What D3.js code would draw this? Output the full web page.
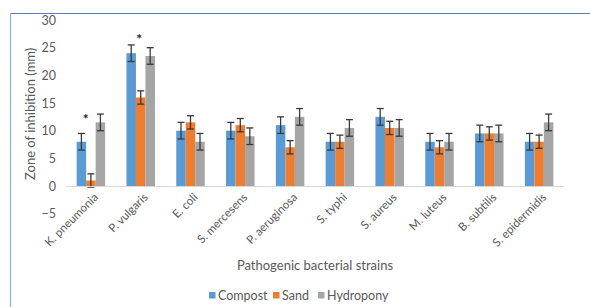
<!DOCTYPE html>
<html>
<head>
<meta charset="utf-8">
<script src="https://cdn.jsdelivr.net/npm/d3@7"></script>
<style>
    body { margin: 0; background: #fff; }
    svg { font-family: Lato, "Open Sans", sans-serif; }
</style>
</head>
<body>
<svg id="chart" width="590" height="307"></svg>
<script>
const categories = ['K. pneumonia', 'P. vulgaris', 'E. coli', 'S. mercesens', 'P. aeruginosa',
    'S. typhi', 'S. aureus', 'M. luteus', 'B. subtilis', 'S. epidermidis'];
const seriesNames = ['Compost', 'Sand', 'Hydropony'];
const compost = [8, 24, 10, 10, 11, 8, 12.5, 8, 9.5, 8];
const sand = [1, 16, 11.5, 11, 7, 8, 10.5, 7, 9.5, 8];
const hydropony = [11.5, 23.5, 8, 9, 12.5, 10.5, 10.5, 8, 9.5, 11.5];
const compostErr = [1.5, 1.5, 1.5, 1.5, 1.5, 1.5, 1.5, 1.5, 1.5, 1.5];
const sandErr = [1.2, 1.2, 1.2, 1.2, 1.2, 1.2, 1.2, 1.2, 1.2, 1.2];
const hydroponyErr = [1.5, 1.5, 1.5, 1.5, 1.5, 1.5, 1.5, 1.5, 1.5, 1.5];
const yTicks = [-5, 0, 5, 10, 15, 20, 25, 30];
// significance marks: category, height, position across the group in bar widths
const stars = [
    { cat: 'K. pneumonia', value: 12.3, at: 0.95, mark: '*', size: 14 },
    { cat: 'P. vulgaris', value: 26.8, at: 1.35, mark: '*', size: 14 },
    { cat: 'S. epidermidis', value: 9.9, at: 1.5, mark: '·', size: 9 }
];

const colors = ['#5B9BD5', '#ED7D31', '#A5A5A5'];
const svg = d3.select('#chart');

// outer frame (only top and left edges show)
svg.append('line').attr('x1', 10).attr('x2', 590).attr('y1', 13.5).attr('y2', 13.5)
    .attr('stroke', '#4F7FCB').attr('stroke-width', 1.2);
svg.append('line').attr('x1', 10.5).attr('x2', 10.5).attr('y1', 13).attr('y2', 307)
    .attr('stroke', '#8DB3E2').attr('stroke-width', 1.2);

const x = d3.scaleBand().domain(categories).range([66, 564]);
const groupW = 28.5;
const x1 = d3.scaleBand().domain(seriesNames).range([0, groupW]);
const y = d3.scaleLinear().domain([-5, 30]).range([213.7, 20]);

const rows = categories.map((c, i) => ({
    cat: c,
    vals: [
        { s: 'Compost', v: compost[i], e: compostErr[i] },
        { s: 'Sand', v: sand[i], e: sandErr[i] },
        { s: 'Hydropony', v: hydropony[i], e: hydroponyErr[i] }
    ]
}));

// y axis labels, no line
const yAxis = svg.append('g').attr('transform', 'translate(66,0)')
    .call(d3.axisLeft(y).tickValues(yTicks).tickSize(0).tickPadding(10));
yAxis.select('.domain').remove();
yAxis.selectAll('text').attr('font-size', 12.5).attr('fill', '#595959')
    .attr('font-family', 'Lato, sans-serif');

const groups = svg.selectAll('g.grp').data(rows).enter().append('g')
    .attr('class', 'grp')
    .attr('transform', d => `translate(${x(d.cat) + (x.bandwidth() - groupW) / 2},0)`);

groups.selectAll('rect').data(d => d.vals).enter().append('rect')
    .attr('x', d => x1(d.s))
    .attr('width', x1.bandwidth())
    .attr('y', d => y(Math.max(0, d.v)))
    .attr('height', d => Math.abs(y(d.v) - y(0)))
    .attr('fill', (d, i) => colors[i]);

// x axis line at zero
svg.append('line').attr('x1', 66).attr('x2', 564)
    .attr('y1', y(0) + 0.5).attr('y2', y(0) + 0.5)
    .attr('stroke', '#D9D9D9').attr('stroke-width', 1);

// error bars
const eb = groups.selectAll('g.err').data(d => d.vals).enter().append('g')
    .attr('class', 'err')
    .attr('stroke', '#3A3A3A').attr('stroke-width', 1.3);
eb.append('line')
    .attr('x1', d => x1(d.s) + x1.bandwidth() / 2).attr('x2', d => x1(d.s) + x1.bandwidth() / 2)
    .attr('y1', d => y(d.v + d.e)).attr('y2', d => y(d.v - d.e));
eb.append('line')
    .attr('x1', d => x1(d.s) + x1.bandwidth() / 2 - 3.5).attr('x2', d => x1(d.s) + x1.bandwidth() / 2 + 3.5)
    .attr('y1', d => y(d.v + d.e)).attr('y2', d => y(d.v + d.e));
eb.append('line')
    .attr('x1', d => x1(d.s) + x1.bandwidth() / 2 - 3.5).attr('x2', d => x1(d.s) + x1.bandwidth() / 2 + 3.5)
    .attr('y1', d => y(d.v - d.e)).attr('y2', d => y(d.v - d.e));

// asterisks
svg.selectAll('text.star').data(stars).enter().append('text')
    .attr('class', 'star')
    .attr('x', d => x(d.cat) + (x.bandwidth() - groupW) / 2 + d.at * x1.bandwidth())
    .attr('y', d => y(d.value) + 6)
    .attr('text-anchor', 'middle')
    .attr('font-size', d => d.size).attr('font-weight', 'bold')
    .attr('fill', d => d.mark === '*' ? '#222' : '#888')
    .text(d => d.mark);

// category labels, rotated
svg.selectAll('text.cat').data(categories).enter().append('text')
    .attr('class', 'cat')
    .attr('transform', d => `translate(${x(d) + x.bandwidth() / 2 + 5},${y(0) + 9}) rotate(-45)`)
    .attr('text-anchor', 'end')
    .attr('dy', '0.35em')
    .attr('font-size', 11.5).attr('fill', '#595959')
    .text(d => d);

// axis titles
svg.append('text')
    .attr('transform', `translate(35,${(y(30) + y(-5)) / 2 - 3}) rotate(-90)`)
    .attr('text-anchor', 'middle')
    .attr('font-size', 13).attr('fill', '#595959')
    .text('Zone of inhibition (mm)');
svg.append('text')
    .attr('x', 315).attr('y', 270)
    .attr('text-anchor', 'middle')
    .attr('font-size', 13).attr('fill', '#595959')
    .text('Pathogenic bacterial strains');

// legend
const legendX = [209, 273, 318];
const lg = svg.selectAll('g.lg').data(seriesNames).enter().append('g')
    .attr('class', 'lg')
    .attr('transform', (d, i) => `translate(${legendX[i]},298)`);
lg.append('rect').attr('x', 0).attr('y', -6).attr('width', 6.5).attr('height', 6.5)
    .attr('fill', (d, i) => colors[i]);
lg.append('text').attr('x', 9).attr('y', 1.5)
    .attr('font-size', 12.5).attr('fill', '#595959')
    .text(d => d);
</script>
</body>
</html>
